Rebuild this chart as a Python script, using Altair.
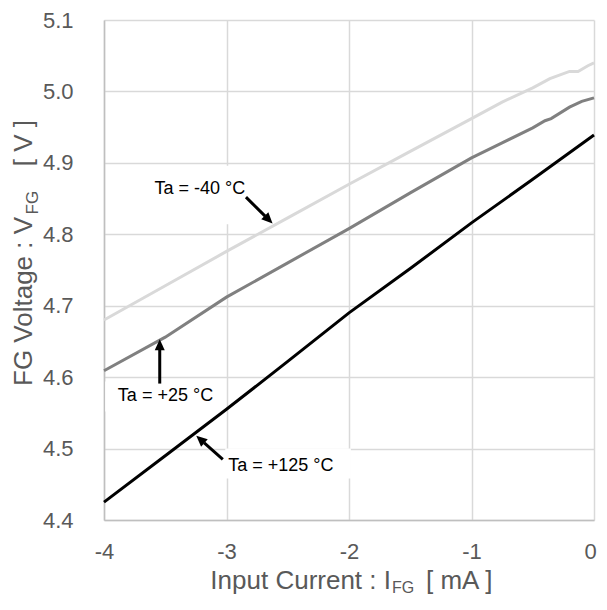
import altair as alt
import pandas as pd

# ---- data ----
series_names = ["Ta = -40 °C", "Ta = +25 °C", "Ta = +125 °C"]
series_colors = ["#d9d9d9", "#808080", "#000000"]

x_m40 = [-4, -3.5, -3, -2.5, -2, -1.5, -1, -0.75, -0.5, -0.36, -0.2, -0.13, -0.05, 0]
v_m40 = [4.680, 4.728, 4.776, 4.823, 4.870, 4.916, 4.962, 4.985, 5.005, 5.018, 5.028, 5.028, 5.036, 5.040]

x_p25 = [-4, -3.5, -3, -2.5, -2, -1.5, -1, -0.75, -0.5, -0.4, -0.35, -0.2, -0.1, 0]
v_p25 = [4.609, 4.656, 4.712, 4.760, 4.808, 4.858, 4.907, 4.928, 4.949, 4.959, 4.962, 4.978, 4.986, 4.991]

x_p125 = [-4, -3.5, -3, -2.5, -2, -1.5, -1, -0.5, 0]
v_p125 = [4.425, 4.490, 4.555, 4.622, 4.690, 4.752, 4.816, 4.877, 4.939]

x_ticks = [-4, -3, -2, -1, 0]
y_ticks = [4.4, 4.5, 4.6, 4.7, 4.8, 4.9, 5.0, 5.1]

# annotation labels (data coordinates)
ann_text = ["Ta = -40 °C", "Ta = +25 °C", "Ta = +125 °C"]
ann_tx = [-3.217, -3.498, -2.556]
ann_ty = [4.864, 4.573, 4.475]
# white boxes behind labels
box_x1 = [-3.62, -3.99, -3.01]
box_x2 = [-2.80, -3.005, -1.985]
box_y1 = [4.814, 4.552, 4.458]
box_y2 = [4.896, 4.594, 4.500]
# arrows: tail -> tip
arr_x1 = [-2.841, -3.545, -3.030]
arr_y1 = [4.852, 4.591, 4.485]
arr_x2 = [-2.624, -3.545, -3.247]
arr_y2 = [4.815, 4.653, 4.518]
arr_angle = [135, 0, 312]
arr_shaft = [0.72, 0.8, 0.7]

FONT = "Liberation Sans, Arial, sans-serif"
GRAY = "#595959"

rows = []
for name, xs, vs in zip(series_names, [x_m40, x_p25, x_p125], [v_m40, v_p25, v_p125]):
    for i, (a, b) in enumerate(zip(xs, vs)):
        rows.append({"series": name, "x": a, "v": b, "o": i})
df = pd.DataFrame(rows)

ann = pd.DataFrame({"t": ann_text, "x": ann_tx, "y": ann_ty,
                    "bx1": box_x1, "bx2": box_x2, "by1": box_y1, "by2": box_y2})
arr = pd.DataFrame({
    "x1": arr_x1, "y1": arr_y1,
    "sx2": [a + f * (c - a) for a, c, f in zip(arr_x1, arr_x2, arr_shaft)],
    "sy2": [b + f * (d - b) for b, d, f in zip(arr_y1, arr_y2, arr_shaft)],
    "x2": arr_x2, "y2": arr_y2, "ang": arr_angle,
})

xscale = alt.Scale(domain=[-4, 0], nice=False, zero=False)
yscale = alt.Scale(domain=[4.4, 5.1], nice=False, zero=False)

xaxis = alt.Axis(values=x_ticks, title=None, grid=True, gridColor="#d9d9d9", gridWidth=1.5,
                 domainColor="#bfbfbf", domainWidth=1.5, ticks=False, labelFontSize=22,
                 labelFont=FONT, labelColor=GRAY, labelPadding=21,
                 labelExpr="toString(datum.value)", labelFlush=False,
                 labelOffset=alt.condition("datum.value == 0", alt.value(-4), alt.value(0)))
yaxis = alt.Axis(values=y_ticks, title=None, grid=True, gridColor="#d9d9d9", gridWidth=1.5,
                 domainColor="#bfbfbf", domainWidth=1.5, ticks=False, labelFontSize=22,
                 labelFont=FONT, labelColor=GRAY, labelPadding=31, format=".1f",
                 labelFlush=False)

boxes = alt.Chart(ann).mark_rect(color="white").encode(
    x=alt.X("bx1:Q", scale=xscale, axis=xaxis),
    x2="bx2:Q",
    y=alt.Y("by1:Q", scale=yscale, axis=yaxis),
    y2="by2:Q",
)

lines = alt.Chart(df).mark_line(strokeWidth=3).encode(
    x=alt.X("x:Q", scale=xscale),
    y=alt.Y("v:Q", scale=yscale),
    color=alt.Color("series:N", scale=alt.Scale(domain=series_names, range=series_colors), legend=None),
    order="o:Q",
)

labels = alt.Chart(ann).mark_text(fontSize=18, font=FONT, color="black", align="center",
                                  baseline="middle").encode(
    x=alt.X("x:Q", scale=xscale), y=alt.Y("y:Q", scale=yscale), text="t:N")

shafts = alt.Chart(arr).mark_rule(strokeWidth=3, color="black").encode(
    x=alt.X("x1:Q", scale=xscale), y=alt.Y("y1:Q", scale=yscale), x2="sx2:Q", y2="sy2:Q")

heads = alt.Chart(arr).mark_point(shape="M0,0 L1.25,2.75 L-1.25,2.75 Z", filled=True, size=64,
                                  color="black", opacity=1, strokeWidth=0).encode(
    x=alt.X("x2:Q", scale=xscale), y=alt.Y("y2:Q", scale=yscale),
    angle=alt.Angle("ang:Q", scale=None))

def txt(s, x, y, size, align, angle=0):
    d = pd.DataFrame({"s": [s]})
    kw = dict(fontSize=size, font=FONT, color=GRAY, align=align, baseline="alphabetic")
    if angle:
        kw["angle"] = angle
    return alt.Chart(d).mark_text(**kw).encode(x=alt.value(x), y=alt.value(y), text="s:N")

titles = [
    txt("Input Current : I", 287, 569, 26, "right"),
    txt("FG", 288, 573, 16, "left"),
    txt("[ mA ]", 322, 569, 26, "left"),
    txt("FG Voltage : V", -72, 366, 26, "left", 270),
    txt("FG", -66, 194.5, 17, "left", 270),
    txt("[ V ]", -72, 100, 26, "right", 270),
]

chart = alt.layer(boxes, lines, labels, shafts, heads, *titles).properties(
    width=490, height=500,
    autosize=alt.AutoSizeParams(type="none"),
    padding={"left": 96, "top": 12, "right": 5, "bottom": 78},
).configure_view(stroke="transparent")

chart.save("out.html", embed_options={"renderer": "svg", "actions": False})
